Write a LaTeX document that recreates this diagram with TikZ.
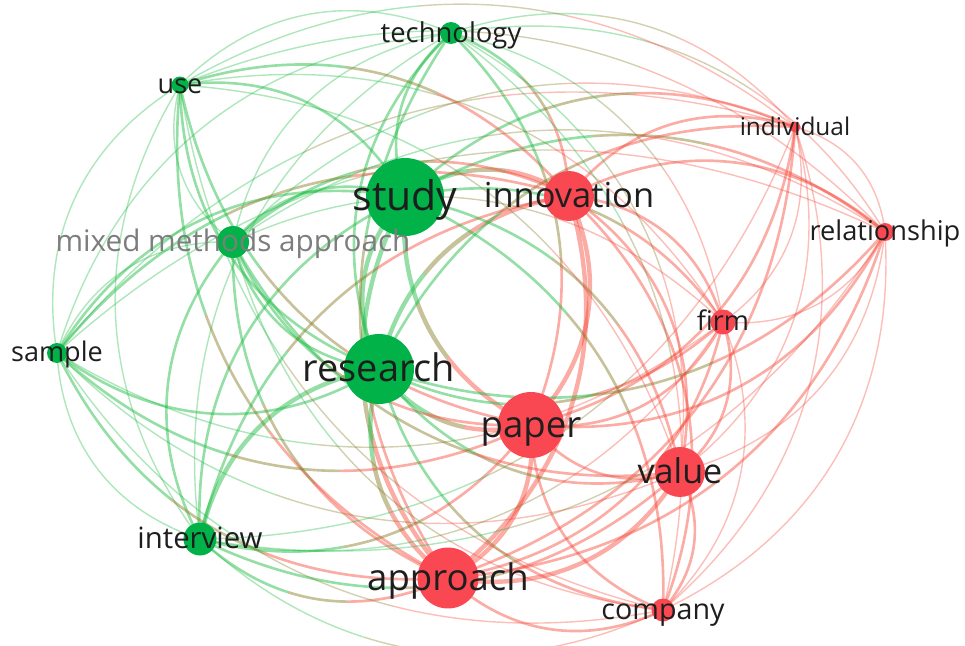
\documentclass[tikz,border=0pt]{standalone}
\usepackage{fontspec}
\setmainfont{Open Sans}
\usetikzlibrary{backgrounds,calc}
\definecolor{vgreen}{RGB}{0,178,72}
\definecolor{vred}{RGB}{250,72,82}
\definecolor{egreen}{RGB}{20,185,60}
\definecolor{ered}{RGB}{245,70,55}
\definecolor{emix}{RGB}{130,120,30}
\definecolor{ink}{RGB}{30,30,30}
\definecolor{dim}{RGB}{125,125,125}
\tikzset{
	term/.style={circle,inner sep=0,minimum size=#1},
	gterm/.style={term=#1,fill=vgreen},
	rterm/.style={term=#1,fill=vred},
	lab/.style={font=\fontsize{#1}{#1}\selectfont,text=ink,inner sep=0,text height={0.9*#1pt},text depth={0.24*#1pt}},
	link/.style={bend right=34,opacity=.45,line cap=round},
	glink/.style={link,draw=egreen},
	rlink/.style={link,draw=ered},
	thk/.style={line width=2.5pt},
	med/.style={line width=1.5pt},
	thn/.style={line width=.8pt,opacity=.35}
}
% piece of the curve #1 -> #2 between fractions #3 and #4 of the chord
\newcommand\linkpart[5]{%
	\begin{scope}
		\clip ($(#1)!#3!(#2)+(#1)!2!90:(#2)-(#1)$) -- ($(#1)!#3!(#2)+(#1)!2!-90:(#2)-(#1)$)
		-- ($(#1)!#4!(#2)+(#1)!2!-90:(#2)-(#1)$) -- ($(#1)!#4!(#2)+(#1)!2!90:(#2)-(#1)$) -- cycle;
		\draw[link,#5] (#1.center) to (#2.center);
	\end{scope}}
% green/red link, colour running from #3 to #4
\newcommand\mixlink[5]{%
	\linkpart{#1}{#2}{-1}{.38}{draw=#3,#5}
	\linkpart{#1}{#2}{.38}{.62}{draw=emix,#5}
	\linkpart{#1}{#2}{.62}{2}{draw=#4,#5}}
\begin{document}
\begin{tikzpicture}[x=0.02cm,y=-0.02cm]
	\useasboundingbox (0,0) rectangle (965,646);
	
	% green cluster
	\node[gterm=.44cm,label={[lab=15.6]center:technology}] (tech) at (451,33) {};
	\node[gterm=.34cm,label={[lab=15.4]center:use}] (use) at (180,85) {};
	\node[gterm=1.56cm,label={[lab=23.3]center:study}] (study) at (405,197) {};
	\node[gterm=.64cm,label={[lab=16.9,text=dim]center:mixed methods approach}] (mixed) at (233,242) {};
	\node[gterm=.40cm,label={[lab=15.4]center:sample}] (sample) at (57,353) {};
	\node[gterm=1.40cm,label={[lab=21.6]center:research}] (research) at (379,369) {};
	\node[gterm=.66cm,label={[lab=16.7]center:interview}] (interview) at (200,539) {};
	
	% red cluster
	\node[rterm=1.0cm,label={[lab=19.6]center:innovation}] (innov) at (569,196) {};
	\node[rterm=.22cm,label={[lab=13.9]center:individual}] (indiv) at (795,127) {};
	\node[rterm=.36cm,label={[lab=15.5]center:relationship}] (relation) at (885,232) {};
	\node[rterm=.50cm,label={[lab=15.4]center:firm}] (firm) at (723,322) {};
	\node[rterm=1.32cm,label={[lab=20.8]center:paper}] (paper) at (531,425) {};
	\node[rterm=1.0cm,label={[lab=19.4]center:value}] (value) at (680,472) {};
	\node[rterm=1.22cm,label={[lab=20.8]center:approach}] (approach) at (448,578) {};
	\node[rterm=.46cm,label={[lab=16.3]center:company}] (company) at (663,610) {};
	
	\begin{scope}[on background layer]
		% green -- green
		\foreach \a/\b/\w in {study/research/thk,tech/study/med,tech/research/med,study/use/med,study/mixed/med,study/sample/med,
			study/interview/med,use/research/med,mixed/research/med,sample/research/med,research/interview/thk,mixed/interview/med,
			tech/use/thn,tech/mixed/thn,tech/sample/thn,tech/interview/thn,use/mixed/thn,use/sample/thn,use/interview/thn,
			mixed/sample/thn,sample/interview/thn}
			\draw[glink,\w] (\a.center) to (\b.center);
		
		% red -- red
		\foreach \a/\b/\w in {approach/paper/thk,approach/innov/thk,paper/innov/thk,approach/company/med,approach/value/thk,
			approach/firm/med,approach/relation/med,approach/indiv/med,paper/company/med,paper/value/med,paper/firm/med,
			paper/relation/med,paper/indiv/med,company/innov/med,value/innov/med,firm/innov/med,relation/innov/med,
			indiv/innov/med,company/value/med,firm/relation/thn,firm/indiv/thn,relation/indiv/thn,company/firm/thn,
			company/relation/thn,company/indiv/thn,value/firm/med,value/relation/thn,value/indiv/thn}
			\draw[rlink,\w] (\a.center) to (\b.center);
		
		% green -- red
		\foreach \a/\b/\w in {study/approach/thk,study/paper/thk,research/approach/thk,research/paper/thk,tech/approach/med,
			use/approach/med,use/paper/med,mixed/approach/med,mixed/paper/med,sample/approach/med,sample/paper/med,
			research/company/med,research/value/med,research/firm/med,research/relation/med,interview/approach/med,
			interview/paper/med,mixed/value/med,interview/value/med,use/company/thn,mixed/company/thn,sample/company/thn,
			sample/value/thn,sample/firm/thn,interview/company/thn,interview/firm/thn,interview/relation/thn,interview/indiv/thn}
			\mixlink{\a}{\b}{egreen}{ered}{\w};
		\foreach \a/\b/\w in {innov/study/thk,innov/research/thk,firm/study/med,relation/study/med,indiv/study/med,
			indiv/research/med,innov/tech/med,innov/use/med,innov/mixed/med,innov/sample/med,innov/interview/med,
			paper/tech/med,company/study/med,value/study/med,firm/tech/thn,firm/use/thn,firm/mixed/thn,relation/tech/thn,
			relation/use/thn,relation/mixed/thn,relation/sample/thn,indiv/tech/thn,indiv/use/thn,indiv/mixed/thn,
			indiv/sample/thn,company/tech/thn,value/tech/thn,value/use/thn}
			\mixlink{\a}{\b}{ered}{egreen}{\w};
	\end{scope}
\end{tikzpicture}
\end{document}
